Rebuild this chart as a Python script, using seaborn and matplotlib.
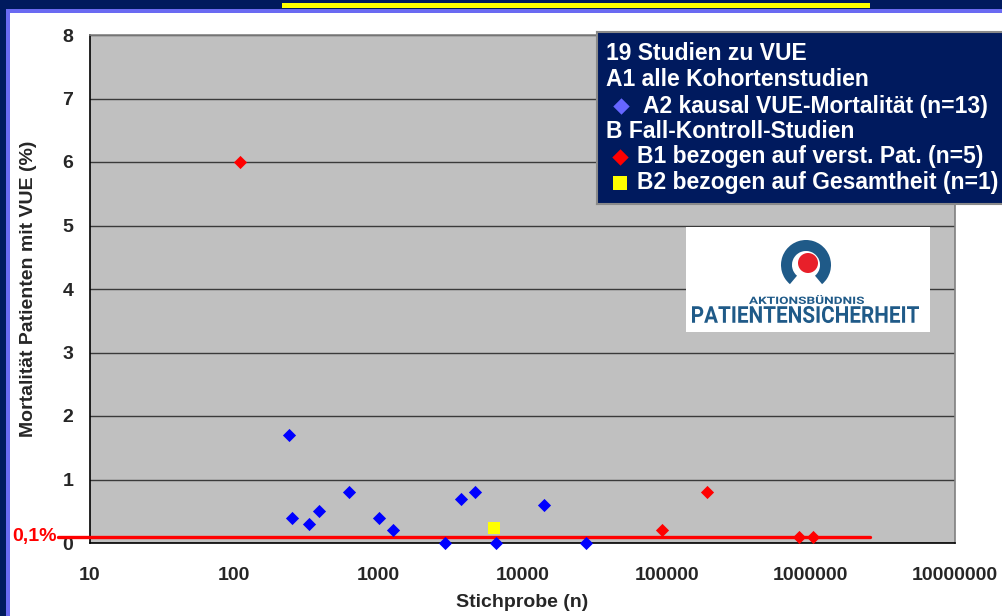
import numpy as np
import pandas as pd

import matplotlib
matplotlib.use("Agg")
import matplotlib.pyplot as plt
import seaborn as sns
from matplotlib.patches import Rectangle, Wedge, Circle, PathPatch
from matplotlib.textpath import TextPath
from matplotlib.font_manager import FontProperties
from matplotlib.transforms import Affine2D, blended_transform_factory

# ── Data ─────────────────────────────────────────────────────────
# A2 kohort studies (blue), B1 case-control (red), B2 case-control (yellow)
a2_n = [241, 253, 331, 389, 630, 1016, 1260, 2917, 3720, 4690, 6500, 14100, 27700]
a2_mort = [1.7, 0.4, 0.3, 0.5, 0.8, 0.4, 0.2, 0.0, 0.7, 0.8, 0.0, 0.6, 0.0]
b1_n = [110, 93000, 190000, 830000, 1030000]
b1_mort = [6.0, 0.2, 0.8, 0.1, 0.1]
b2_n = [6300]
b2_mort = [0.24]

threshold = 0.1
threshold_label = "0,1%"
x_ticks = [10, 100, 1000, 10000, 100000, 1000000, 10000000]
y_ticks = [0, 1, 2, 3, 4, 5, 6, 7, 8]

legend_lines = [
    "19 Studien zu VUE",
    "A1 alle Kohortenstudien",
    "A2 kausal VUE-Mortalität (n=13)",
    "B Fall-Kontroll-Studien",
    "B1 bezogen auf verst. Pat. (n=5)",
    "B2 bezogen auf Gesamtheit (n=1)",
]

# ── Style ────────────────────────────────────────────────────────
W, H = 1002, 616
NAVY = "#001a5e"
LAVENDER = "#6a6af2"
LOGO_BLUE = "#1f5a88"

sns.set_style("white")
plt.rcParams["font.family"] = ["Liberation Sans", "DejaVu Sans"]
plt.rcParams["font.weight"] = "bold"


def fig_box(x, y, w, h):
    """pixel box (top-left origin) -> figure fraction rect"""
    return [x / W, 1 - (y + h) / H, w / W, h / H]


fig = plt.figure(figsize=(W / 100, H / 100), dpi=100)
fig.patch.set_facecolor(NAVY)

# slide frame
for (x, y, w, h, c) in [(6, 9, W, H, LAVENDER), (10, 13, W, H, "white"),
                        (282, 3, 588, 5, "#ffff00")]:
    r = fig_box(x, y, w, h)
    fig.add_artist(Rectangle((r[0], r[1]), r[2], r[3], transform=fig.transFigure,
                             facecolor=c, edgecolor="none", zorder=0))
# slide title, mostly outside the visible frame
fig.text(22 / W, 1 - 0.5 / H, "Sicherheit 2007", color="white", fontsize=16,
         fontweight="bold", va="baseline", ha="left")

# ── Main scatter ─────────────────────────────────────────────────
ax = fig.add_axes(fig_box(90, 35, 865, 508))
ax.set_facecolor("#c0c0c0")

df = pd.concat([
    pd.DataFrame({"n": a2_n, "mort": a2_mort, "group": "A2"}),
    pd.DataFrame({"n": b1_n, "mort": b1_mort, "group": "B1"}),
    pd.DataFrame({"n": b2_n, "mort": b2_mort, "group": "B2"}),
])
styles = {"A2": ("#0000ff", "D", 45), "B1": ("#ff0000", "D", 45), "B2": ("#ffff00", "s", 85)}
for g, (col, mk, size) in styles.items():
    sns.scatterplot(data=df[df["group"] == g], x="n", y="mort", color=col, marker=mk,
                    s=size, linewidth=0, clip_on=False, zorder=5, ax=ax, legend=False)

ax.set_xscale("log")
ax.set_xlim(10, 1e7)
ax.set_ylim(0, 8)
ax.set_xticks(x_ticks)
ax.set_xticklabels([str(t) for t in x_ticks])
ax.set_yticks(y_ticks)
ax.minorticks_off()
ax.tick_params(axis="both", direction="out", length=4, width=1, color="black",
               labelsize=14)
ax.tick_params(axis="x", pad=13)
ax.tick_params(axis="y", pad=8)
for lab in ax.get_xticklabels() + ax.get_yticklabels():
    lab.set_fontweight("bold")

ax.yaxis.grid(True, color="#3a3a3a", lw=1)
ax.xaxis.grid(False)
ax.set_axisbelow(True)
for side, col in [("top", "#808080"), ("right", "#808080"), ("left", "black"), ("bottom", "black")]:
    ax.spines[side].set_visible(True)
    ax.spines[side].set_color(col)
    ax.spines[side].set_linewidth(1.2)

ax.set_xlabel("Stichprobe (n)", fontsize=14, fontweight="bold")
ax.set_ylabel("Mortalität Patienten mit VUE (%)", fontsize=14, fontweight="bold")
ax.xaxis.set_label_coords(0.5, -0.1)
ax.yaxis.set_label_coords(-0.061, 0.5)

# 0,1% reference line
ax.axhline(threshold, xmin=(58 - 90) / 865, xmax=(870 - 90) / 865, color="#ff0000",
           lw=2.4, clip_on=False, zorder=4)
ax.text((57 - 90) / 865, threshold, threshold_label, color="#ff0000", fontsize=14,
        fontweight="bold", ha="right", va="center",
        transform=blended_transform_factory(ax.transAxes, ax.transData))

# ── Legend box (drawn in pixel units) ────────────────────────────
lax = fig.add_axes(fig_box(597, 32, 420, 172))
lax.set_xlim(597, 1017)
lax.set_ylim(204, 32)
lax.set_facecolor(NAVY)
lax.set_xticks([])
lax.set_yticks([])
for s in lax.spines.values():
    s.set_color("#8a8a8a")
    s.set_linewidth(1.5)

line_y = [54, 80, 106, 131, 157, 183]
text_x = [606, 606, 643, 606, 637, 637]
for txt, tx, ty in zip(legend_lines, text_x, line_y):
    lax.text(tx, ty, txt, color="white", fontsize=16.5, fontweight="bold",
             ha="left", va="center")
lax.scatter([621], [line_y[2]], marker="D", s=70, color="#6666ff", linewidth=0)
lax.scatter([620], [line_y[4]], marker="D", s=70, color="#ff0000", linewidth=0)
lax.scatter([620], [line_y[5]], marker="s", s=90, color="#ffff00", linewidth=0)

# ── Logo ─────────────────────────────────────────────────────────
gx = fig.add_axes(fig_box(686, 227, 244, 105))
gx.set_xlim(686, 930)
gx.set_ylim(332, 227)
gx.set_facecolor("white")
gx.set_xticks([])
gx.set_yticks([])
for s in gx.spines.values():
    s.set_visible(False)
gx.add_patch(Wedge((806, 265), 25, 130, 410, width=11, facecolor=LOGO_BLUE, edgecolor="none"))
gx.add_patch(Circle((808, 263), 10, facecolor="#e8202a", edgecolor="none"))


def fit_text(axis, s, x0, x1, y_top, y_bot, color):
    tp = TextPath((0, 0), s, size=1, prop=FontProperties(family="Roboto"))
    ext = tp.get_extents()
    sx = (x1 - x0) / ext.width
    sy = (y_bot - y_top) / ext.height
    tr = Affine2D().translate(-ext.x0, -ext.y0).scale(sx, -sy).translate(x0, y_bot)
    axis.add_patch(PathPatch(tp, transform=tr + axis.transData, facecolor=color,
                             edgecolor="none"))


fit_text(gx, "AKTIONSBÜNDNIS", 749, 864, 295, 304, LOGO_BLUE)
fit_text(gx, "PATIENTENSICHERHEIT", 692, 919, 306, 323, LOGO_BLUE)

fig.savefig("out.png", dpi=100, facecolor=fig.get_facecolor())
